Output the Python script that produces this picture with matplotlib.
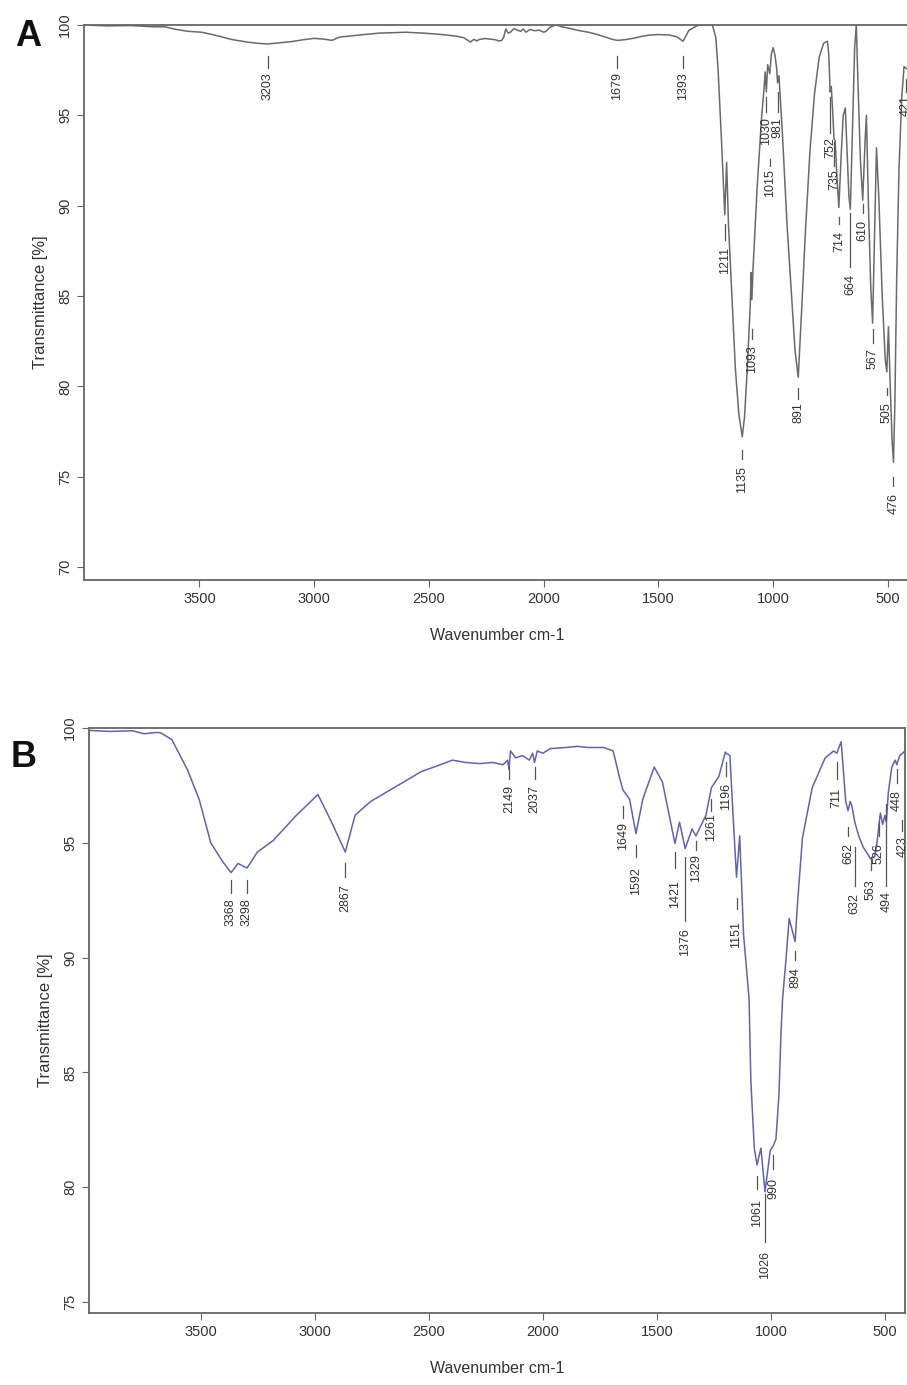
# FTIR spectra, panels A and B
import matplotlib.pyplot as plt
import numpy as np

plt.rcParams['font.family'] = ['Liberation Sans', 'DejaVu Sans']

# Panel A spectrum (wavenumber, transmittance)
a_wn = [4000, 3900, 3800, 3700, 3650, 3600, 3550, 3490, 3420, 3360, 3290, 3240, 3203,
        3150, 3100, 3050, 3000, 2960, 2922, 2890, 2850, 2800, 2718, 2650, 2600, 2524,
        2470, 2427, 2380, 2349, 2330, 2320, 2305, 2290, 2281, 2255, 2233, 2210, 2195,
        2184, 2175, 2165, 2155, 2145, 2130, 2116, 2100, 2090, 2077, 2060, 2038, 2020,
        2000, 1990, 1975, 1961, 1950, 1941, 1920, 1883, 1850, 1805, 1760, 1728, 1700,
        1679, 1650, 1611, 1570, 1533, 1500, 1456, 1420, 1393, 1380, 1368, 1340, 1324,
        1290, 1265, 1250, 1240, 1225, 1211, 1203, 1195, 1180, 1165, 1150, 1135, 1125,
        1113, 1100, 1096, 1093, 1088, 1070, 1050, 1040, 1035, 1030, 1024, 1015, 1008,
        1000, 992, 985, 981, 975, 960, 940, 920, 905, 891, 875, 860, 840, 820, 800,
        780, 764, 758, 752, 747, 740, 735, 730, 722, 714, 705, 695, 686, 678, 670,
        664, 655, 645, 638, 630, 620, 610, 600, 594, 585, 575, 567, 560, 550, 540,
        525, 512, 505, 498, 490, 482, 476, 470, 462, 452, 440, 430, 420, 405]
a_t = [100.0, 99.95, 99.97, 99.9, 99.9, 99.75, 99.65, 99.6, 99.4, 99.2, 99.05, 98.98, 98.95,
       99.02, 99.08, 99.18, 99.26, 99.22, 99.15, 99.33, 99.38, 99.45, 99.55, 99.58, 99.6, 99.55,
       99.5, 99.45, 99.38, 99.3, 99.15, 99.05, 99.2, 99.12, 99.2, 99.25, 99.22, 99.18, 99.12,
       99.14, 99.3, 99.78, 99.55, 99.6, 99.8, 99.72, 99.65, 99.78, 99.6, 99.75, 99.68, 99.72,
       99.6, 99.65, 99.85, 99.93, 100.0, 99.98, 99.9, 99.8, 99.7, 99.6, 99.45, 99.32, 99.2,
       99.15, 99.18, 99.26, 99.38, 99.45, 99.47, 99.45, 99.35, 99.1, 99.4, 99.7, 99.9, 100.0,
       100.0, 100.0, 99.3, 97.5, 93.5, 89.5, 92.4, 89.0, 85.0, 81.0, 78.5, 77.2, 78.3,
       81.0, 84.5, 86.3, 84.8, 86.5, 91.0, 95.0, 96.5, 97.4, 96.3, 97.8, 97.3, 98.4,
       98.75, 98.3, 97.6, 96.8, 97.2, 94.0, 89.0, 85.0, 82.0, 80.5, 84.5, 88.5, 93.0, 96.2, 98.2,
       99.0, 99.1, 98.4, 96.3, 96.6, 95.0, 93.7, 93.6, 91.5, 89.9, 92.5, 95.0, 95.4, 93.0, 90.5,
       89.8, 94.0, 98.8, 100.0, 96.5, 92.5, 90.3, 93.5, 95.0, 90.0, 85.5, 83.5, 87.5, 93.2, 90.5,
       85.0, 81.5, 80.8, 83.3, 80.0, 77.0, 75.8, 79.0, 86.0, 92.0, 96.0, 97.7, 97.6, 97.4]

# Panel B spectrum
b_wn = [4000, 3900, 3800, 3750, 3700, 3679, 3628, 3560, 3508, 3457, 3406, 3368, 3337,
        3298, 3252, 3183, 3081, 2987, 2927, 2867, 2824, 2756, 2619, 2534, 2450, 2397,
        2340, 2277, 2220, 2175, 2155, 2149, 2142, 2120, 2089, 2060, 2045, 2037, 2025,
        2000, 1969, 1900, 1850, 1800, 1733, 1692, 1663, 1649, 1620, 1592, 1562, 1512,
        1476, 1440, 1421, 1401, 1376, 1346, 1329, 1285, 1261, 1228, 1200, 1196, 1180,
        1165, 1151, 1137, 1120, 1096, 1088, 1073, 1061, 1044, 1026, 1003, 990, 978,
        965, 956, 949, 935, 920, 894, 884, 862, 819, 762, 725, 711, 700, 692, 685,
        672, 662, 652, 645, 632, 615, 595, 575, 563, 545, 535, 526, 520, 510, 500,
        494, 485, 470, 455, 448, 435, 423, 412]
b_t = [99.9, 99.85, 99.88, 99.75, 99.8, 99.8, 99.5, 98.2, 96.9, 95.0, 94.2, 93.7, 94.1,
       93.9, 94.6, 95.1, 96.2, 97.1, 95.9, 94.6, 96.2, 96.8, 97.6, 98.1, 98.4, 98.6,
       98.5, 98.45, 98.5, 98.4, 98.6, 98.2, 99.0, 98.7, 98.8, 98.6, 98.9, 98.5, 99.0,
       98.9, 99.1, 99.15, 99.2, 99.15, 99.15, 99.0, 97.8, 97.3, 96.9, 95.4, 96.9, 98.3,
       97.65, 95.9, 94.97, 95.9, 94.75, 95.6, 95.3, 96.2, 97.4, 97.9, 98.95, 98.9, 98.8,
       96.0, 93.5, 95.3, 91.0, 88.2, 84.6, 81.7, 80.97, 81.7, 79.8, 81.6, 81.8, 82.1,
       84.0, 86.7, 88.2, 89.8, 91.7, 90.7, 92.3, 95.2, 97.4, 98.7, 99.0, 98.9, 99.2, 99.4, 98.5,
       96.8, 96.4, 96.8, 96.6, 95.9, 95.3, 94.8, 94.5, 94.3, 94.4, 95.0, 95.8, 96.3, 95.8, 96.2,
       95.9, 97.2, 98.3, 98.6, 98.4, 98.8, 98.9, 99.0]

# Peak labels: wavenumber, leader line top/bottom (T), text top (T)
a_pk = [3203, 1679, 1393, 1211, 1135, 1093, 1030, 1015, 981, 891,
        752, 735, 714, 664, 610, 567, 505, 476, 421]
a_pk_line = [(98.3, 97.6), (98.3, 97.6), (98.3, 97.6), (89.0, 88.1), (76.5, 76.0),
             (83.2, 82.6), (96.0, 95.2), (92.6, 92.2), (96.3, 95.2), (79.9, 79.3),
             (96.0, 94.0), (93.5, 92.2), (89.4, 89.0), (89.6, 86.6), (90.1, 89.6),
             (83.2, 82.4), (79.9, 79.5), (75.0, 74.5), (97.0, 96.3)]
a_pk_text = [97.4, 97.4, 97.4, 87.7, 75.6, 82.3, 94.9, 92.0, 94.9, 79.1,
             93.8, 92.0, 88.6, 86.2, 89.2, 82.1, 79.1, 74.1, 96.1]

b_pk = [3368, 3298, 2867, 2149, 2037, 1649, 1592, 1421, 1376, 1329, 1261, 1196,
        1151, 1061, 1026, 990, 894, 711, 662, 632, 563, 526, 494, 448, 423]
b_pk_line = [(93.4, 92.8), (93.4, 92.8), (94.1, 93.5), (98.3, 97.8), (98.3, 97.8),
             (96.6, 96.1), (94.9, 94.4), (94.6, 93.9), (94.4, 91.6), (95.1, 94.7),
             (96.9, 96.4), (98.5, 97.9), (92.6, 92.1), (80.5, 79.9), (79.7, 77.6),
             (81.4, 80.8), (90.3, 89.9), (98.5, 97.8), (95.7, 95.3), (94.8, 93.1),
             (94.4, 93.8), (95.9, 95.3), (96.7, 93.1), (98.2, 97.6), (96.0, 95.5)]
b_pk_text = [92.6, 92.6, 93.2, 97.5, 97.5, 95.9, 93.95, 93.4, 91.3, 94.5, 96.3, 97.6,
             91.6, 79.5, 77.2, 80.4, 89.6, 97.4, 95.0, 92.8, 93.4, 95.0, 92.9, 97.3, 95.3]

fig = plt.figure(figsize=(9.07, 13.85), dpi=100)
axA = fig.add_axes([84/907, 1-580/1385, 826/907, 555/1385])
axB = fig.add_axes([89/907, 1-1313/1385, 816/907, 585/1385])

panels = [(axA, a_wn, a_t, '#6a6a6a', a_pk, a_pk_line, a_pk_text, (4003, 404), (69.28, 100.0),
           np.arange(70, 101, 5), 'A', 0.0165, 0.986),
          (axB, b_wn, b_t, '#6363ab', b_pk, b_pk_line, b_pk_text, (3991, 412), (74.52, 100.0),
           np.arange(75, 101, 5), 'B', 0.012, 0.466)]

for ax, wn, t, col, pk, pkl, pkt, xl, yl, yt, tag, tx, ty in panels:
    ax.plot(wn, t, color=col, lw=1.1)
    for w, (l0, l1), tt in zip(pk, pkl, pkt):
        ax.plot([w, w], [l0, l1], color='#555555', lw=0.9, clip_on=False)
        ax.text(w, tt, str(w), rotation=90, ha='center', va='top', fontsize=9,
                color='#333333', clip_on=False)
    ax.set_xlim(*xl)
    ax.set_ylim(*yl)
    ax.set_xticks([3500, 3000, 2500, 2000, 1500, 1000, 500])
    ax.set_yticks(yt)
    ax.tick_params(direction='out', length=5, color='#666666', labelcolor='#333333', labelsize=10.5)
    for lab in ax.get_yticklabels():
        lab.set_rotation(90)
        lab.set_va('center')
    for s in ax.spines.values():
        s.set_color('#666666')
        s.set_linewidth(1.3)
    ax.set_xlabel('Wavenumber cm-1', fontsize=11.5, color='#333333', labelpad=16)
    ax.set_ylabel('Transmittance [%]', fontsize=12, color='#333333', labelpad=7)
    fig.text(tx, ty, tag, fontsize=26, fontweight='bold', ha='left', va='top', color='#111111')

plt.savefig('out.png', dpi=100)
